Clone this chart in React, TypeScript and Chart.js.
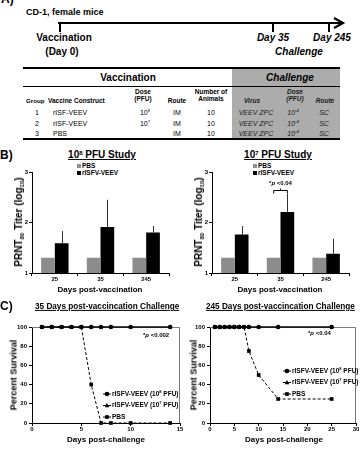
import React, { useEffect, useRef } from "react";
import { Chart, registerables } from "chart.js";

Chart.register(...registerables);

const FONT = "'Liberation Sans', Arial, Helvetica, sans-serif";

// Neutralizing antibody titers (log10 PRNT80) by day post-vaccination
const titerDays = ["25", "35", "245"];
const pbsTiter8 = [1.3, 1.3, 1.3];
const vacTiter8 = [1.59, 1.91, 1.8];
const vacTiterSd8 = [0.24, 0.54, 0.13];
const pbsTiter7 = [1.3, 1.3, 1.3];
const vacTiter7 = [1.76, 2.21, 1.38];
const vacTiterSd7 = [0.17, 0.36, 0.3];
const bracketLevel7 = 2.64;

// Percent survival after challenge
const challengeDays35 = [1, 2, 3, 4, 5, 6, 7, 8, 10, 14];
const survival35Vac8 = [100, 100, 100, 100, 100, 100, 100, 100, 100, 100];
const survival35Vac7 = [100, 100, 100, 100, 100, 100, 100, 100, 100, 100];
const survival35Pbs = [100, 100, 100, 100, 100, 40, 0, 0, 0, 0];

const challengeDays245 = [1, 2, 3, 4, 5, 6, 7, 8, 10, 14, 25];
const survival245Vac8 = [100, 100, 100, 100, 100, 100, 100, 100, 100, 100, 100];
const survival245Vac7 = [100, 100, 100, 100, 100, 100, 100, 100, 100, 100, 100];
const survival245Pbs = [100, 100, 100, 100, 100, 100, 100, 75, 50, 25, 25];

// Study design table
const tableGroups = ["1", "2", "3"];
const tableConstructs = ["rISF-VEEV", "rISF-VEEV", "PBS"];
const tableDoseExp = ["8", "7", ""];
const tableRoute = ["IM", "IM", "IM"];
const tableAnimals = ["10", "10", "10"];
const tableVirus = ["VEEV ZPC", "VEEV ZPC", "VEEV ZPC"];
const tableChallengeExp = ["-4", "-4", "-4"];
const tableChallengeRoute = ["SC", "SC", "SC"];

type Part = [string, boolean];
const legendVac8: Part[] = [["rISFV-VEEV (10", false], ["8", true], [" PFU)", false]];
const legendVac7: Part[] = [["rISFV-VEEV (10", false], ["7", true], [" PFU)", false]];
const legendPbs: Part[] = [["PBS", false]];

function Sup({ children }: any) {
  return <span style={{ fontSize: "0.6em", verticalAlign: "0.55em", lineHeight: 0 }}>{children}</span>;
}
function Sub({ children }: any) {
  return <span style={{ fontSize: "0.6em", verticalAlign: "-0.3em", lineHeight: 0 }}>{children}</span>;
}

function Txt({ x, y, size = 7, bold = false, italic = false, anchor = "start", underline = false, color = "#000", rotate = false, children }: any) {
  const tx = anchor === "middle" ? "-50%" : anchor === "end" ? "-100%" : "0";
  return (
    <div
      style={{
        position: "absolute",
        left: x,
        top: y,
        transform: rotate ? "translate(-50%, -50%) rotate(-90deg)" : `translate(${tx}, -50%)`,
        fontSize: size,
        fontWeight: bold ? 700 : 400,
        fontStyle: italic ? "italic" : "normal",
        textDecoration: underline ? "underline" : "none",
        textUnderlineOffset: 1,
        whiteSpace: "nowrap",
        lineHeight: 1,
        color,
        fontFamily: FONT,
      }}
    >
      {children}
    </div>
  );
}

function zeroPad(s: any) {
  s.paddingLeft = 0;
  s.paddingRight = 0;
  s.paddingTop = 0;
  s.paddingBottom = 0;
}

const tickFont = { family: FONT, size: 6, weight: "bold" as const };

function TiterChart({ left, pbs, vac, sd, bracket }: any) {
  const ref = useRef<HTMLCanvasElement>(null);
  useEffect(() => {
    const errorBars = {
      id: "errorBars",
      afterDatasetsDraw(chart: any) {
        const ctx = chart.ctx;
        const yScale = chart.scales.y;
        const meta = chart.getDatasetMeta(1);
        ctx.save();
        ctx.strokeStyle = "#333";
        ctx.lineWidth = 1;
        meta.data.forEach((bar: any, i: number) => {
          const top = yScale.getPixelForValue(vac[i] + sd[i]);
          const x = Math.round(bar.x) + 0.5;
          ctx.beginPath();
          ctx.moveTo(x, bar.y);
          ctx.lineTo(x, top);
          ctx.stroke();
        });
        if (bracket) {
          const x0 = chart.getDatasetMeta(0).data[1].x;
          const x1 = meta.data[1].x;
          const yb = Math.round(yScale.getPixelForValue(bracket.level)) + 0.5;
          const mid = (x0 + x1) / 2;
          ctx.strokeStyle = "#000";
          ctx.beginPath();
          ctx.moveTo(x0, yb + 3);
          ctx.lineTo(x0, yb);
          ctx.lineTo(x1, yb);
          ctx.lineTo(x1, yb + 3);
          ctx.moveTo(mid, yb);
          ctx.lineTo(mid, yb - 2);
          ctx.stroke();
          ctx.fillStyle = "#000";
          ctx.textBaseline = "middle";
          const parts: [string, string][] = [
            ["*", `bold 6px ${FONT}`],
            ["p", `italic bold 6px ${FONT}`],
            [" <" + bracket.text, `bold 6px ${FONT}`],
          ];
          let w = 0;
          parts.forEach(([t, f]) => { ctx.font = f; w += ctx.measureText(t).width; });
          let x = mid - w / 2;
          parts.forEach(([t, f]) => {
            ctx.font = f;
            ctx.fillText(t, x, yb - 7);
            x += ctx.measureText(t).width;
          });
        }
        ctx.restore();
      },
    };
    const chart = new Chart(ref.current as HTMLCanvasElement, {
      type: "bar",
      data: {
        labels: titerDays,
        datasets: [
          { label: "PBS", data: pbs, backgroundColor: "#8c8c8c", categoryPercentage: 0.6, barPercentage: 1 },
          { label: "rISFV-VEEV", data: vac, backgroundColor: "#000", categoryPercentage: 0.6, barPercentage: 1 },
        ],
      },
      options: {
        responsive: false,
        animation: false,
        layout: { padding: { top: 7, right: 11, left: 0, bottom: 0 } },
        plugins: { legend: { display: false }, tooltip: { enabled: false } },
        scales: {
          x: {
            grid: { drawOnChartArea: false, drawTicks: true, tickLength: 3, color: "#000", offset: true },
            border: { color: "#000", width: 1 },
            ticks: { font: tickFont, color: "#000", padding: 0 },
            afterFit: (s: any) => { s.height = 17; zeroPad(s); },
          },
          y: {
            min: 1,
            max: 3,
            ticks: { stepSize: 1, font: tickFont, color: "#000", padding: 1 },
            grid: { drawOnChartArea: false, tickLength: 3, color: "#000" },
            border: { color: "#000", width: 1 },
            afterFit: (s: any) => { s.width = 32; zeroPad(s); },
          },
        },
      } as any,
      plugins: [errorBars],
    });
    return () => chart.destroy();
  }, []);
  return (
    <canvas
      ref={ref}
      width={180}
      height={125}
      style={{ position: "absolute", left, top: 165, width: 180, height: 125 }}
    />
  );
}

function drawParts(ctx: any, parts: Part[], x: number, y: number, size: number) {
  let cx = x;
  parts.forEach(([t, sup]) => {
    ctx.font = `bold ${sup ? size * 0.62 : size}px ${FONT}`;
    ctx.fillText(t, cx, sup ? y - size * 0.35 : y);
    cx += ctx.measureText(t).width;
  });
}

function drawMarker(ctx: any, style: string, x: number, y: number, r: number) {
  ctx.beginPath();
  if (style === "circle") {
    ctx.arc(x, y, r, 0, Math.PI * 2);
  } else if (style === "triangle") {
    ctx.moveTo(x, y - r);
    ctx.lineTo(x + r * 0.95, y + r * 0.7);
    ctx.lineTo(x - r * 0.95, y + r * 0.7);
    ctx.closePath();
  } else {
    const h = r * Math.SQRT1_2;
    ctx.rect(x - h, y - h, 2 * h, 2 * h);
  }
  ctx.fill();
}

function SurvivalChart({ left, width, padRight, yWidth, xMax, xStep, days, vac8, vac7, pbs, legendX, legendY }: any) {
  const ref = useRef<HTMLCanvasElement>(null);
  useEffect(() => {
    const pts = (vals: number[]) => days.map((d: number, i: number) => ({ x: d, y: vals[i] }));
    const frame = {
      id: "frame",
      beforeDatasetsDraw(chart: any) {
        const { ctx, chartArea: a } = chart;
        ctx.save();
        ctx.strokeStyle = "#7a7a7a";
        ctx.lineWidth = 1;
        ctx.beginPath();
        ctx.moveTo(a.left, Math.round(a.top) + 0.5);
        ctx.lineTo(Math.round(a.right) - 0.5, Math.round(a.top) + 0.5);
        ctx.lineTo(Math.round(a.right) - 0.5, a.bottom);
        ctx.stroke();
        ctx.restore();
      },
    };
    const labels = [legendVac8, legendVac7, legendPbs];
    const legend = {
      id: "survivalLegend",
      afterDatasetsDraw(chart: any) {
        const ctx = chart.ctx;
        ctx.save();
        ctx.fillStyle = "#000";
        ctx.strokeStyle = "#000";
        ctx.textBaseline = "middle";
        chart.data.datasets.forEach((ds: any, i: number) => {
          const y = legendY + i * 11.5;
          ctx.lineWidth = 1;
          ctx.setLineDash(ds.borderDash || []);
          ctx.beginPath();
          ctx.moveTo(legendX - 4, y);
          ctx.lineTo(legendX + 4, y);
          ctx.stroke();
          ctx.setLineDash([]);
          drawMarker(ctx, ds.pointStyle, legendX, y, ds.pointRadius);
          drawParts(ctx, labels[i], legendX + 5, y, 6.5);
        });
        ctx.restore();
      },
    };
    const chart = new Chart(ref.current as HTMLCanvasElement, {
      type: "line",
      data: {
        datasets: [
          { label: "rISFV-VEEV (10^8 PFU)", data: pts(vac8), borderColor: "#000", backgroundColor: "#000", borderWidth: 1, pointStyle: "circle", pointRadius: 2.3, pointBorderWidth: 0, clip: false },
          { label: "rISFV-VEEV (10^7 PFU)", data: pts(vac7), borderColor: "#000", backgroundColor: "#000", borderWidth: 1, pointStyle: "triangle", pointRadius: 2.4, pointBorderWidth: 0, clip: false },
          { label: "PBS", data: pts(pbs), borderColor: "#000", backgroundColor: "#000", borderWidth: 1, borderDash: [3, 2], pointStyle: "rect", pointRadius: 2.6, pointBorderWidth: 0, clip: false },
        ],
      },
      options: {
        responsive: false,
        animation: false,
        layout: { padding: { top: 7, right: padRight, left: 0, bottom: 0 } },
        plugins: { legend: { display: false }, tooltip: { enabled: false } },
        scales: {
          x: {
            type: "linear",
            min: 0,
            max: xMax,
            ticks: { stepSize: xStep, font: tickFont, color: "#000", padding: 0 },
            grid: { drawOnChartArea: false, tickLength: 3, color: "#000" },
            border: { color: "#000", width: 1 },
            afterFit: (s: any) => { s.height = 22; zeroPad(s); },
          },
          y: {
            min: 0,
            max: 100,
            ticks: { stepSize: 20, font: tickFont, color: "#000", padding: 2 },
            grid: { drawOnChartArea: false, tickLength: 3, color: "#000" },
            border: { color: "#000", width: 1 },
            afterFit: (s: any) => { s.width = yWidth; zeroPad(s); },
          },
        },
      } as any,
      plugins: [frame, legend],
    });
    return () => chart.destroy();
  }, []);
  return (
    <canvas
      ref={ref}
      width={width}
      height={125}
      style={{ position: "absolute", left, top: 320, width, height: 125 }}
    />
  );
}

function Timeline() {
  return (
    <svg width={360} height={40} style={{ position: "absolute", left: 0, top: 0 }}>
      <line x1={58} y1={23} x2={341} y2={23} stroke="#000" strokeWidth={2} />
      <polyline points="334,18 343,23 334,28" fill="none" stroke="#000" strokeWidth={2.2} />
      <line x1={60} y1={22} x2={60} y2={32} stroke="#000" strokeWidth={2} />
      <line x1={273} y1={22} x2={273} y2={32} stroke="#000" strokeWidth={2} />
      <line x1={329} y1={22} x2={329} y2={32} stroke="#000" strokeWidth={2} />
    </svg>
  );
}

function DesignTable() {
  const dark = "#1a1a1a";
  return (
    <>
      <div style={{ position: "absolute", left: 232, top: 68, width: 108, height: 71, background: "#acacac" }} />
      <div style={{ position: "absolute", left: 23, top: 67, width: 317, height: 1.5, background: "#000" }} />
      <div style={{ position: "absolute", left: 23, top: 86, width: 317, height: 1, background: "#000" }} />
      <div style={{ position: "absolute", left: 23, top: 138, width: 317, height: 1.5, background: "#000" }} />
      <Txt x={128} y={78} size={10} bold anchor="middle">Vaccination</Txt>
      <Txt x={290} y={78} size={10} bold italic anchor="middle">Challenge</Txt>

      <Txt x={26} y={101} size={6.2} bold>Group</Txt>
      <Txt x={48} y={101} size={6.5} bold>Vaccine Construct</Txt>
      <Txt x={143} y={92} size={6.5} bold anchor="middle">Dose</Txt>
      <Txt x={143} y={99} size={6.5} bold anchor="middle">(PFU)</Txt>
      <Txt x={177} y={101} size={6.5} bold anchor="middle">Route</Txt>
      <Txt x={211} y={92} size={6.5} bold anchor="middle">Number of</Txt>
      <Txt x={211} y={99} size={6.5} bold anchor="middle">Animals</Txt>
      <Txt x={252} y={101} size={6.5} bold italic anchor="middle" color={dark}>Virus</Txt>
      <Txt x={295} y={92} size={6.5} bold italic anchor="middle" color={dark}>Dose</Txt>
      <Txt x={295} y={99} size={6.5} bold italic anchor="middle" color={dark}>(PFU)</Txt>
      <Txt x={325} y={101} size={6.5} bold italic anchor="middle" color={dark}>Route</Txt>

      {tableGroups.map((g, i) => {
        const y = 112 + i * 10.7;
        return (
          <React.Fragment key={g}>
            <Txt x={37} y={y} size={7} anchor="middle">{g}</Txt>
            <Txt x={53} y={y} size={7}>{tableConstructs[i]}</Txt>
            {tableDoseExp[i] ? (
              <Txt x={145} y={y} size={7} anchor="middle">10<Sup>{tableDoseExp[i]}</Sup></Txt>
            ) : null}
            <Txt x={177} y={y} size={7} anchor="middle">{tableRoute[i]}</Txt>
            <Txt x={211} y={y} size={7} anchor="middle">{tableAnimals[i]}</Txt>
            <Txt x={256} y={y} size={7} italic anchor="middle" color={dark}>{tableVirus[i]}</Txt>
            <Txt x={293} y={y} size={7} italic anchor="middle" color={dark}>10<Sup>{tableChallengeExp[i]}</Sup></Txt>
            <Txt x={324} y={y} size={7} italic anchor="middle" color={dark}>{tableChallengeRoute[i]}</Txt>
          </React.Fragment>
        );
      })}
    </>
  );
}

function TiterLegend({ x }: any) {
  return (
    <>
      <div style={{ position: "absolute", left: x, top: 164, width: 4, height: 4, background: "#8c8c8c" }} />
      <Txt x={x + 5} y={166} size={6.5} bold>PBS</Txt>
      <div style={{ position: "absolute", left: x, top: 171, width: 4, height: 4, background: "#000" }} />
      <Txt x={x + 5} y={173} size={6.5} bold>rISFV-VEEV</Txt>
    </>
  );
}

export default function App() {
  return (
    <div
      style={{
        position: "absolute",
        left: 0,
        top: 0,
        width: 360,
        height: 449,
        background: "#fff",
        overflow: "hidden",
        fontFamily: FONT,
      }}
    >
      {/* A) study timeline and design */}
      <Txt x={1} y={-1} size={12} bold>A)</Txt>
      <Txt x={26} y={12} size={9} bold>CD-1, female mice</Txt>
      <Timeline />
      <Txt x={64} y={38} size={10} bold anchor="middle">Vaccination</Txt>
      <Txt x={62} y={52} size={10} bold anchor="middle">(Day 0)</Txt>
      <Txt x={273} y={38} size={10} bold italic anchor="middle">Day 35</Txt>
      <Txt x={332} y={38} size={10} bold italic anchor="middle">Day 245</Txt>
      <Txt x={299} y={52} size={10} bold italic anchor="middle">Challenge</Txt>
      <DesignTable />

      {/* B) neutralizing titers */}
      <Txt x={0} y={155} size={12} bold>B)</Txt>
      <Txt x={102} y={155} size={10} bold anchor="middle" underline>10<Sup>8</Sup> PFU Study</Txt>
      <Txt x={278} y={155} size={10} bold anchor="middle" underline>10<Sup>7</Sup> PFU Study</Txt>
      <TiterLegend x={77} />
      <TiterLegend x={253} />
      <TiterChart left={0} pbs={pbsTiter8} vac={vacTiter8} sd={vacTiterSd8} />
      <TiterChart left={180} pbs={pbsTiter7} vac={vacTiter7} sd={vacTiterSd7} bracket={{ level: bracketLevel7, text: "0.04" }} />
      <Txt x={19} y={222} size={10} bold rotate>PRNT<Sub>80</Sub> Titer (log<Sub>10</Sub>)</Txt>
      <Txt x={199} y={222} size={10} bold rotate>PRNT<Sub>80</Sub> Titer (log<Sub>10</Sub>)</Txt>
      <Txt x={100} y={290} size={8} bold anchor="middle">Days post-vaccination</Txt>
      <Txt x={280} y={290} size={8} bold anchor="middle">Days post-vaccination</Txt>

      {/* C) survival after challenge */}
      <Txt x={0} y={306} size={12} bold>C)</Txt>
      <Txt x={35} y={307} size={8.2} bold underline>35 Days post-vaccincation Challenge</Txt>
      <Txt x={206} y={307} size={8.2} bold underline>245 Days post-vaccincation Challenge</Txt>
      <SurvivalChart
        left={0}
        width={195}
        padRight={15}
        yWidth={32}
        xMax={15}
        xStep={5}
        days={challengeDays35}
        vac8={survival35Vac8}
        vac7={survival35Vac7}
        pbs={survival35Pbs}
        legendX={107}
        legendY={74}
      />
      <SurvivalChart
        left={180}
        width={180}
        padRight={1}
        yWidth={30}
        xMax={30}
        xStep={5}
        days={challengeDays245}
        vac8={survival245Vac8}
        vac7={survival245Vac7}
        pbs={survival245Pbs}
        legendX={107}
        legendY={51}
      />
      <Txt x={143} y={335} size={6} bold>*<i>p</i> &lt;0.002</Txt>
      <Txt x={308} y={333} size={6} bold>*<i>p</i> &lt;0.04</Txt>
      <Txt x={14} y={375} size={9} bold rotate>Percent Survival</Txt>
      <Txt x={194} y={375} size={9} bold rotate>Percent Survival</Txt>
      <Txt x={106} y={440} size={8} bold anchor="middle">Days post-challenge</Txt>
      <Txt x={284} y={440} size={8} bold anchor="middle">Days post-challenge</Txt>
    </div>
  );
}
